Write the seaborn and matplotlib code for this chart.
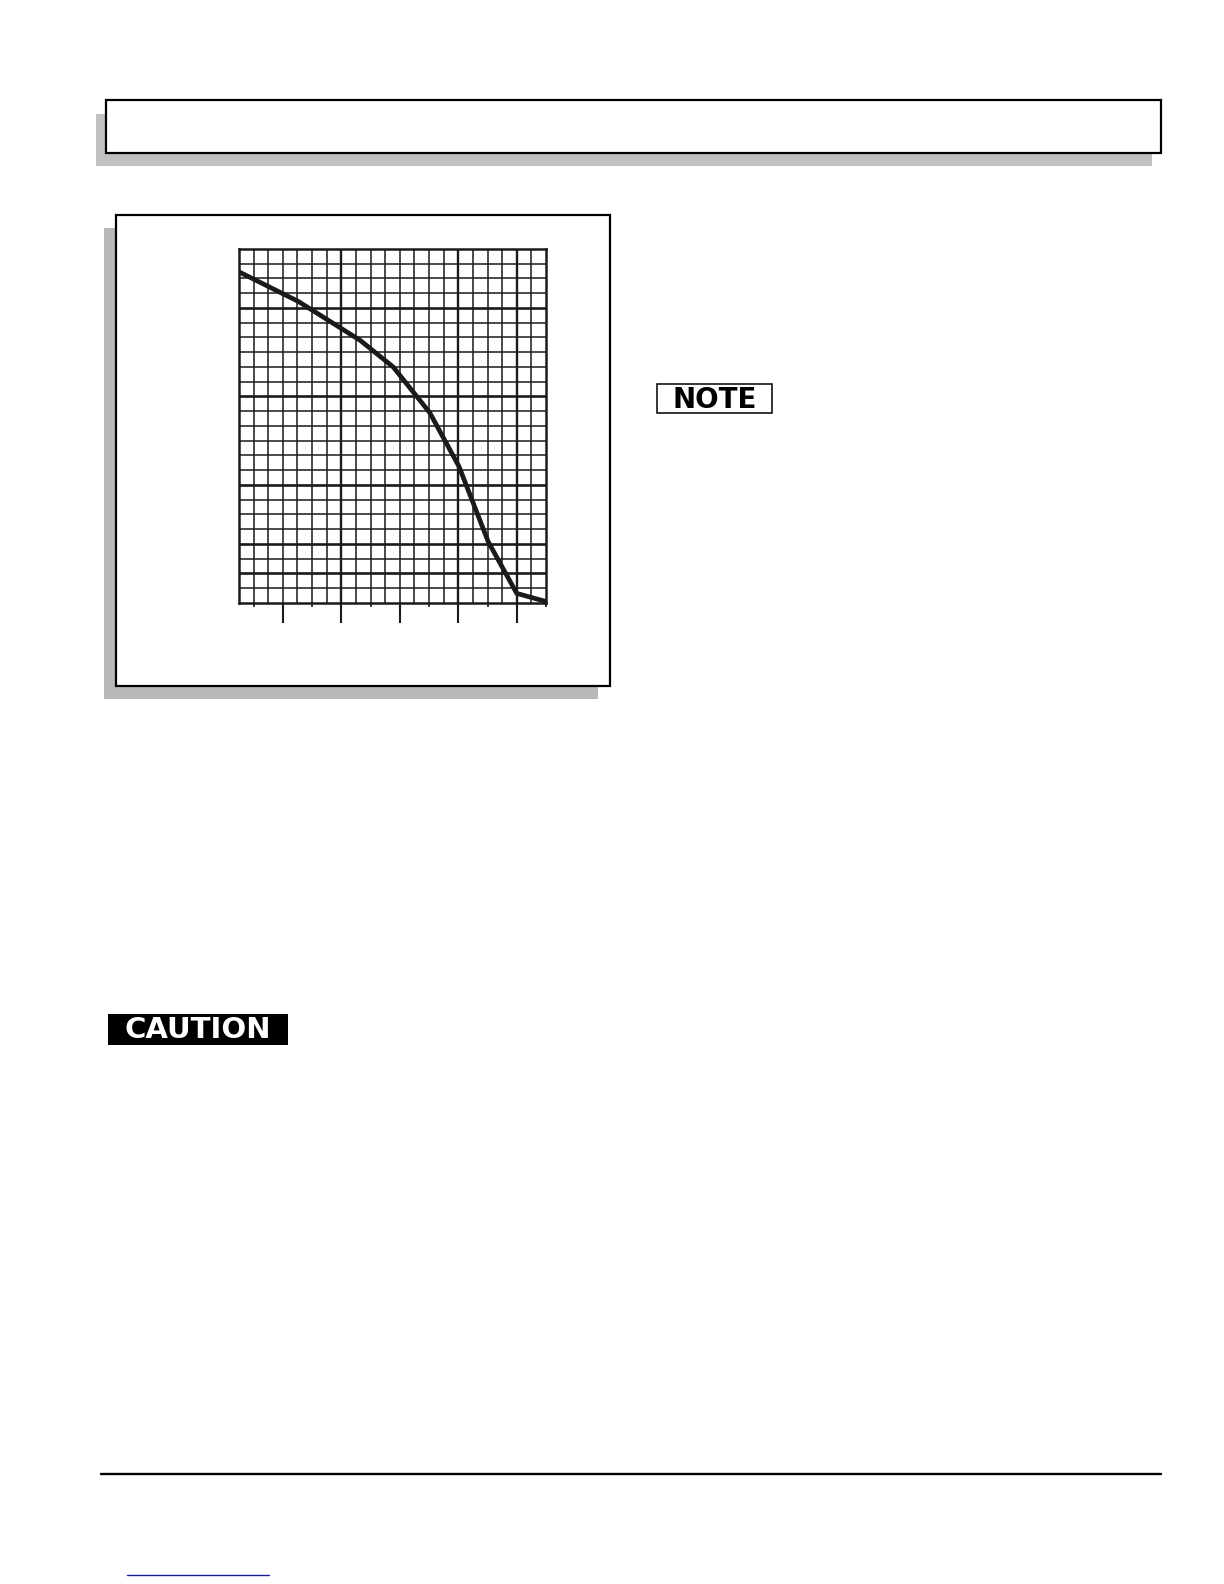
import matplotlib
matplotlib.use("Agg")
import matplotlib.pyplot as plt
import matplotlib.patches as mpatches
import seaborn as sns

# curve (x in grid columns, y in grid rows from the bottom)
curve_x = [0.0, 4.05, 8.3, 10.55, 13.05, 15.05, 17.05, 19.0, 21.0]
curve_y = [22.45, 20.45, 17.8, 16.0, 12.9, 9.25, 4.15, 0.65, 0.1]

n_cols = 21
n_rows = 24
heavy_cols = [7, 15, 19]
heavy_rows = [2, 4, 8, 14, 20]
long_ticks = [3, 7, 11, 15, 19]
short_ticks = [1, 5, 9, 13, 17, 21]

note_label = "NOTE"
caution_label = "CAUTION"

sns.set_style("white")
plt.rcParams['font.family'] = ['DejaVu Sans']

W, H = 1224, 1584
fig = plt.figure(figsize=(W / 100, H / 100), dpi=100)

# page layer in pixel coordinates
page = fig.add_axes([0, 0, 1, 1], zorder=0)
page.set_xlim(0, W)
page.set_ylim(H, 0)
page.axis("off")

def box(x0, y0, x1, y1, face, edge=None, lw=0):
    page.add_patch(mpatches.Rectangle((x0, y0), x1 - x0, y1 - y0,
                                      facecolor=face, edgecolor=edge if edge else face,
                                      linewidth=lw))

# header bar with shadow
box(96, 114, 1152, 166, "#c0c0c0")
box(106, 100, 1161, 153, "white", "black", 1.6)

# chart frame with shadow
box(104, 228, 598, 699, "#b8b8b8")
box(116, 215, 610, 686, "white", "black", 1.6)

# NOTE tag
box(657, 384, 772, 413, "white", "black", 1.1)
page.text(714.5, 399.5, note_label, ha="center", va="center", fontsize=20,
          fontweight="heavy", color="black")

# CAUTION tag
box(108, 1014, 288, 1045, "black")
page.text(198, 1030.5, caution_label, ha="center", va="center", fontsize=21,
          fontweight="heavy", color="white")

# footer rule and small link underline
page.plot([101, 1161], [1474, 1474], color="black", lw=1.7)
page.plot([127, 269], [1575, 1575], color="#1a1a9a", lw=1.0)

# chart grid
left, top, right, bottom = 239, 249, 546, 603
ax = fig.add_axes([left / W, 1 - bottom / H, (right - left) / W, (bottom - top) / H],
                  zorder=2)
ax.set_xlim(0, n_cols)
ax.set_ylim(0, n_rows)
ax.patch.set_alpha(0)

for i in range(1, n_cols):
    ax.axvline(i, color="#1a1a1a", lw=1.7 if i in heavy_cols else 1.1, zorder=1)
for j in range(1, n_rows):
    ax.axhline(j, color="#1a1a1a", lw=1.9 if j in heavy_rows else 1.1, zorder=1)

sns.lineplot(x=curve_x, y=curve_y, ax=ax, color="#1a1a1a", linewidth=3.4, zorder=3)

for s in ax.spines.values():
    s.set_linewidth(1.8)
    s.set_color("#1a1a1a")

ax.set_xticks(long_ticks)
ax.set_xticks(short_ticks, minor=True)
ax.set_xticklabels([])
ax.set_yticks([])
ax.tick_params(axis="x", which="major", direction="out", length=14.5, width=1.5,
               color="#1a1a1a", bottom=True)
ax.tick_params(axis="x", which="minor", direction="out", length=3.2, width=1.2,
               color="#1a1a1a", bottom=True)
ax.set_xlabel("")
ax.set_ylabel("")

fig.savefig("out.png", dpi=100)
